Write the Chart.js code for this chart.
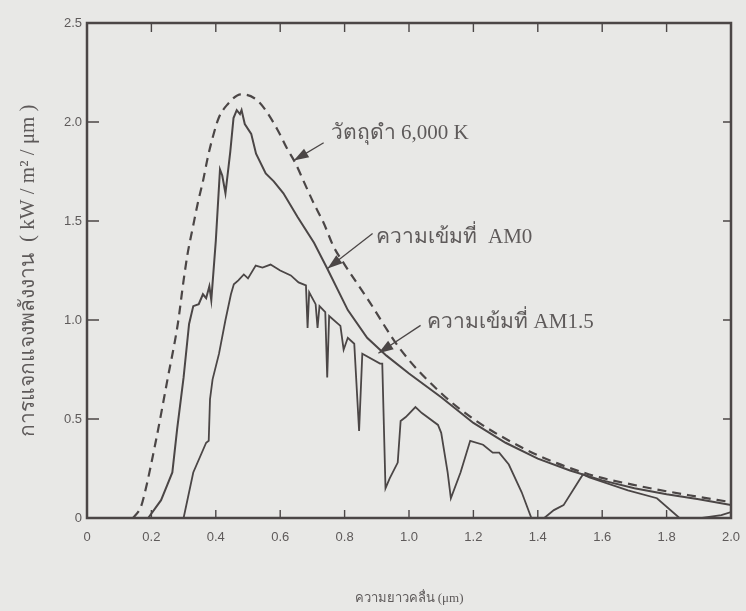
<!DOCTYPE html>
<html lang="th">
<head>
  <meta charset="UTF-8" />
  <title>การแจกแจงพลังงานของรังสีอาทิตย์</title>
  <style>
    body {
      margin: 0;
      background: #e8e8e6;
    }
    #wrap {
      width: 746px;
      height: 611px;
    }
  </style>
</head>
<body>
  <div id="wrap"><canvas id="spectrumChart" width="746" height="611"></canvas></div>

  <script src="https://cdn.jsdelivr.net/npm/chart.js"></script>
  <script>
// ความยาวคลื่น (μm) และค่าที่อ่านจากกราฟ (kW/m²/μm)
const bbWave  = [0.143, 0.167, 0.177, 0.214, 0.25, 0.282, 0.30, 0.313, 0.329, 0.344, 0.36, 0.375, 0.39, 0.409, 0.437, 0.478, 0.52, 0.55, 0.592, 0.62, 0.648, 0.673, 0.704, 0.735, 0.766, 0.80, 0.87, 0.974, 1.10, 1.20, 1.30, 1.41, 1.56, 1.72, 1.87, 2.0];
const bbValue = [0, 0.055, 0.11, 0.39, 0.70, 0.98, 1.20, 1.34, 1.47, 1.59, 1.70, 1.82, 1.92, 2.02, 2.09, 2.14, 2.12, 2.07, 1.96, 1.87, 1.79, 1.70, 1.59, 1.49, 1.37, 1.28, 1.11, 0.85, 0.63, 0.50, 0.40, 0.31, 0.22, 0.16, 0.115, 0.08];

const am0Wave  = [0.19, 0.23, 0.25, 0.265, 0.28, 0.30, 0.317, 0.33, 0.347, 0.36, 0.37, 0.38, 0.386, 0.40, 0.413, 0.42, 0.43, 0.445, 0.455, 0.465, 0.475, 0.48, 0.49, 0.51, 0.525, 0.555, 0.58, 0.61, 0.654, 0.705, 0.746, 0.81, 0.87, 0.93, 1.0, 1.1, 1.2, 1.3, 1.4, 1.5, 1.6, 1.7, 1.8, 1.9, 2.0];
const am0Value = [0, 0.09, 0.17, 0.23, 0.45, 0.71, 0.98, 1.07, 1.08, 1.13, 1.11, 1.17, 1.10, 1.40, 1.76, 1.73, 1.64, 1.85, 2.02, 2.06, 2.04, 2.06, 1.99, 1.94, 1.84, 1.74, 1.70, 1.64, 1.52, 1.39, 1.26, 1.05, 0.91, 0.82, 0.73, 0.61, 0.48, 0.38, 0.30, 0.24, 0.19, 0.15, 0.12, 0.095, 0.065];

const am15Wave  = [0.30, 0.33, 0.37, 0.378, 0.382, 0.39, 0.41, 0.43, 0.447, 0.456, 0.47, 0.487, 0.50, 0.524, 0.545, 0.57, 0.60, 0.633, 0.657, 0.68, 0.685, 0.69, 0.71, 0.716, 0.722, 0.74, 0.746, 0.752, 0.787, 0.797, 0.81, 0.83, 0.845, 0.855, 0.91, 0.917, 0.927, 0.94, 0.965, 0.974, 0.99, 1.02, 1.04, 1.09, 1.10, 1.12, 1.13, 1.16, 1.19, 1.23, 1.26, 1.28, 1.31, 1.35, 1.38, 1.42, 1.45, 1.48, 1.54, 1.56, 1.68, 1.77, 1.84, 1.91, 1.97, 2.0];
const am15Value = [0, 0.23, 0.38, 0.39, 0.60, 0.70, 0.83, 1.0, 1.13, 1.18, 1.20, 1.23, 1.21, 1.275, 1.265, 1.28, 1.25, 1.225, 1.19, 1.175, 0.96, 1.14, 1.08, 0.96, 1.07, 1.04, 0.71, 1.02, 0.97, 0.85, 0.91, 0.88, 0.44, 0.83, 0.78, 0.78, 0.15, 0.20, 0.28, 0.49, 0.51, 0.56, 0.53, 0.47, 0.43, 0.23, 0.10, 0.23, 0.39, 0.37, 0.33, 0.33, 0.27, 0.13, 0, 0, 0.04, 0.065, 0.22, 0.205, 0.14, 0.10, 0, 0, 0.015, 0.03];

const xTicks = [0, 0.2, 0.4, 0.6, 0.8, 1.0, 1.2, 1.4, 1.6, 1.8, 2.0];
const xTickLabels = ['0', '0.2', '0.4', '0.6', '0.8', '1.0', '1.2', '1.4', '1.6', '1.8', '2.0'];
const yTicks = [0, 0.5, 1.0, 1.5, 2.0, 2.5];
const yTickLabels = ['0', '0.5', '1.0', '1.5', '2.0', '2.5'];

const ink = '#4b4646';
const textInk = '#5e5a5a';

function toPoints(xs, ys) {
  return xs.map((x, i) => ({ x: x, y: ys[i] }));
}

function drawArrow(ctx, x1, y1, x2, y2) {
  ctx.beginPath();
  ctx.moveTo(x1, y1);
  ctx.lineTo(x2, y2);
  ctx.stroke();
  const ang = Math.atan2(y2 - y1, x2 - x1);
  const L = 15, W = 5;
  const bx = x2 - L * Math.cos(ang), by = y2 - L * Math.sin(ang);
  ctx.beginPath();
  ctx.moveTo(x2, y2);
  ctx.lineTo(bx + W * Math.sin(ang), by - W * Math.cos(ang));
  ctx.lineTo(bx - W * Math.sin(ang), by + W * Math.cos(ang));
  ctx.closePath();
  ctx.fill();
}

// กรอบ ขีดสเกลด้านใน และคำอธิบายเส้น
const frameAndNotes = {
  id: 'frameAndNotes',
  afterDatasetsDraw(chart) {
    const { ctx, chartArea: a, scales: { x, y } } = chart;
    ctx.save();
    ctx.strokeStyle = ink;
    ctx.fillStyle = ink;
    ctx.lineWidth = 2.5;
    ctx.strokeRect(a.left, a.top, a.right - a.left, a.bottom - a.top);

    ctx.lineWidth = 1.4;
    ctx.beginPath();
    xTicks.slice(1, -1).forEach(v => {
      const px = x.getPixelForValue(v);
      ctx.moveTo(px, a.bottom); ctx.lineTo(px, a.bottom - 8);
      ctx.moveTo(px, a.top); ctx.lineTo(px, a.top + 9);
    });
    yTicks.slice(1, -1).forEach(v => {
      const py = y.getPixelForValue(v);
      ctx.moveTo(a.left, py); ctx.lineTo(a.left + 12, py);
      ctx.moveTo(a.right, py); ctx.lineTo(a.right - 8, py);
    });
    ctx.stroke();

    const notes = [
      { text: 'วัตถุดำ 6,000 K', tx: 0.757, ty: 1.94, from: [0.735, 1.895], to: [0.642, 1.805] },
      { text: 'ความเข้มที่  AM0', tx: 0.899, ty: 1.416, from: [0.887, 1.437], to: [0.747, 1.26] },
      { text: 'ความเข้มที่ AM1.5', tx: 1.057, ty: 0.988, from: [1.036, 0.973], to: [0.905, 0.832] }
    ];
    ctx.font = '21px "Liberation Serif", "DejaVu Serif", serif';
    ctx.textBaseline = 'middle';
    ctx.textAlign = 'left';
    ctx.lineWidth = 1.3;
    notes.forEach(n => {
      ctx.fillStyle = textInk;
      ctx.fillText(n.text, x.getPixelForValue(n.tx), y.getPixelForValue(n.ty));
      ctx.fillStyle = ink;
      drawArrow(ctx,
        x.getPixelForValue(n.from[0]), y.getPixelForValue(n.from[1]),
        x.getPixelForValue(n.to[0]), y.getPixelForValue(n.to[1]));
    });
    ctx.restore();
  }
};

new Chart(document.getElementById('spectrumChart'), {
  type: 'line',
  data: {
    datasets: [
      {
        label: 'วัตถุดำ 6,000 K',
        data: toPoints(bbWave, bbValue),
        borderColor: ink,
        borderWidth: 2.2,
        borderDash: [9, 6],
        cubicInterpolationMode: 'monotone',
        pointRadius: 0
      },
      {
        label: 'ความเข้มที่ AM0',
        data: toPoints(am0Wave, am0Value),
        borderColor: ink,
        borderWidth: 2,
        tension: 0,
        pointRadius: 0
      },
      {
        label: 'ความเข้มที่ AM1.5',
        data: toPoints(am15Wave, am15Value),
        borderColor: ink,
        borderWidth: 1.8,
        tension: 0,
        pointRadius: 0
      }
    ]
  },
  options: {
    responsive: false,
    animation: false,
    layout: { padding: { top: 23, right: 15, left: 0, bottom: 0 } },
    plugins: {
      legend: { display: false },
      tooltip: { enabled: false }
    },
    scales: {
      x: {
        type: 'linear',
        min: 0,
        max: 2,
        afterBuildTicks: s => { s.ticks = xTicks.map(v => ({ value: v })); },
        afterFit: s => {
          s.height = 93;
          s.paddingLeft = 0;
          s.paddingRight = 0;
        },
        grid: { display: false, drawTicks: false },
        border: { display: false },
        ticks: {
          padding: 12,
          color: textInk,
          font: { family: '"Liberation Sans", Arial, sans-serif', size: 13 },
          callback: (v, i) => xTickLabels[i]
        },
        title: {
          display: true,
          text: 'ความยาวคลื่น (μm)',
          color: textInk,
          font: { family: '"Liberation Serif", serif', size: 13 },
          padding: { top: 0, bottom: 5 }
        }
      },
      y: {
        min: 0,
        max: 2.5,
        afterBuildTicks: s => { s.ticks = yTicks.map(v => ({ value: v })); },
        afterFit: s => { s.width = 87; },
        grid: { display: false, drawTicks: false },
        border: { display: false },
        ticks: {
          padding: 5,
          color: textInk,
          font: { family: '"Liberation Sans", Arial, sans-serif', size: 13 },
          callback: (v, i) => yTickLabels[i]
        },
        title: {
          display: true,
          text: 'การแจกแจงพลังงาน  ( kW / m² / μm )',
          color: textInk,
          font: { family: '"Liberation Serif", serif', size: 21 },
          padding: { top: 16, bottom: 0 }
        }
      }
    }
  },
  plugins: [frameAndNotes]
});
  </script>
</body>
</html>
